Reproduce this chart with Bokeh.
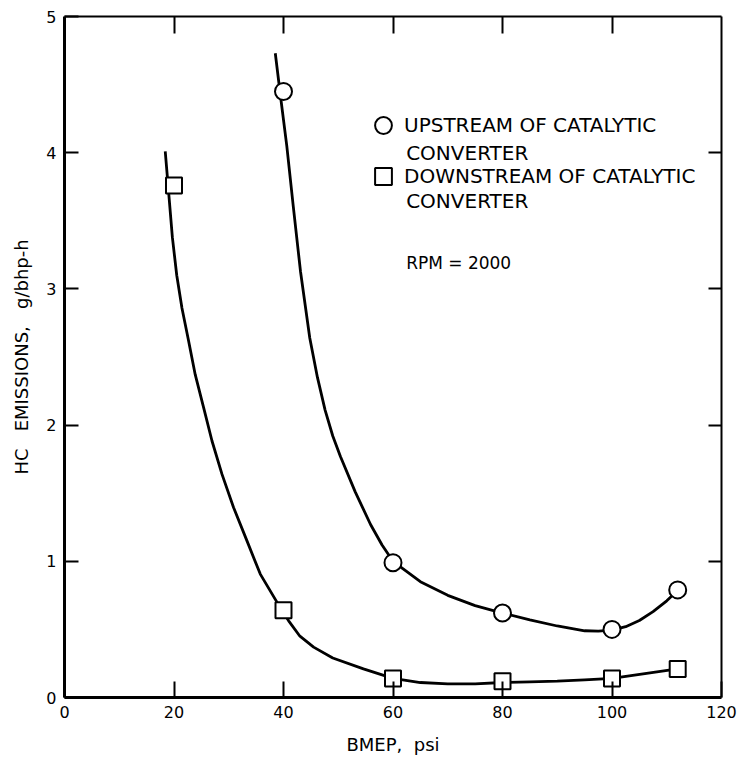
from bokeh.plotting import figure
from bokeh.models import (LinearAxis, Legend, LegendItem, Label, FixedTicker,
                          Range1d)
from bokeh.embed import file_html
from bokeh.resources import INLINE

# ---- data ----
x_ticks = [0, 20, 40, 60, 80, 100, 120]
y_ticks = [0, 1, 2, 3, 4, 5]

upstream_bmep = [40, 60, 80, 100, 112]
upstream_hc = [4.45, 0.99, 0.62, 0.50, 0.79]

downstream_bmep = [20, 40, 60, 80, 100, 112]
downstream_hc = [3.76, 0.64, 0.14, 0.12, 0.14, 0.21]

# faired curves as drawn in the picture
upstream_curve_x = [38.5, 39.5, 40.6, 41.8, 43.1, 44.8, 46.2, 47.6, 49.0, 50.4,
                    53.1, 55.9, 58.0, 60.0, 65, 70, 75, 80, 85, 90, 95, 97.5,
                    100, 102.5, 105, 107.5, 110, 112]
upstream_curve_y = [4.73, 4.40, 4.05, 3.60, 3.13, 2.64, 2.35, 2.11, 1.92, 1.77,
                    1.51, 1.27, 1.12, 1.00, 0.85, 0.75, 0.675, 0.62, 0.57, 0.525,
                    0.49, 0.488, 0.495, 0.52, 0.565, 0.63, 0.71, 0.785]

downstream_curve_x = [18.4, 19.0, 19.7, 20.5, 21.45, 22.66, 23.88, 25.4, 26.93,
                      28.76, 30.88, 33.33, 35.76, 38.8, 40.94, 43.0, 45.5, 49.0,
                      54.6, 60, 65, 70, 75, 80, 85, 90, 95, 100, 106, 112]
downstream_curve_y = [4.01, 3.72, 3.38, 3.10, 2.86, 2.62, 2.37, 2.13, 1.885,
                      1.64, 1.395, 1.15, 0.906, 0.70, 0.563, 0.45, 0.37, 0.29,
                      0.21, 0.14, 0.11, 0.10, 0.10, 0.11, 0.115, 0.12, 0.13,
                      0.14, 0.175, 0.21]

FONT = "DejaVu Sans"

p = figure(width=737, height=761, x_range=Range1d(0, 120), y_range=Range1d(0, 5),
           output_backend="svg", toolbar_location=None,
           min_border_left=64, min_border_top=16, min_border_right=16,
           min_border_bottom=64)
p.grid.visible = False
p.outline_line_color = None
p.background_fill_color = "white"
p.border_fill_color = "white"

# bottom axis
xa = p.xaxis[0]
xa.ticker = FixedTicker(ticks=x_ticks)
xa.major_tick_in = 16
xa.major_tick_out = 0
xa.minor_tick_line_color = None
xa.axis_line_width = 3
xa.major_tick_line_width = 2
xa.major_label_standoff = 8
xa.major_label_text_font = FONT
xa.major_label_text_font_size = "16px"
xa.major_label_text_color = "black"
xa.axis_label = "BMEP,\u00a0 psi"
xa.axis_label_text_font = FONT
xa.axis_label_text_font_size = "18px"
xa.axis_label_text_font_style = "normal"
xa.axis_label_text_color = "black"
xa.axis_label_standoff = 13

# left axis
ya = p.yaxis[0]
ya.ticker = FixedTicker(ticks=y_ticks)
ya.major_tick_in = 14
ya.major_tick_out = 0
ya.minor_tick_line_color = None
ya.axis_line_width = 3
ya.major_tick_line_width = 2
ya.major_label_standoff = 8
ya.major_label_text_font = FONT
ya.major_label_text_font_size = "16px"
ya.major_label_text_color = "black"
ya.axis_label = "HC\u00a0\u00a0 EMISSIONS,\u00a0\u00a0 g/bhp-h"
ya.axis_label_text_font = FONT
ya.axis_label_text_font_size = "18px"
ya.axis_label_text_font_style = "normal"
ya.axis_label_text_color = "black"
ya.axis_label_standoff = 11

# top and right frame axes (ticks only, blank labels)
top_ticks = [20, 40, 60, 80, 100]
right_ticks = [1, 2, 3, 4]
top = LinearAxis(ticker=FixedTicker(ticks=top_ticks),
                 major_tick_in=17, major_tick_out=0, minor_tick_line_color=None,
                 axis_line_width=2, major_tick_line_width=2,
                 major_label_overrides={t: "" for t in top_ticks},
                 major_label_text_font_size="8px", major_label_standoff=0)
right = LinearAxis(ticker=FixedTicker(ticks=right_ticks),
                   major_tick_in=13, major_tick_out=0, minor_tick_line_color=None,
                   axis_line_width=2, major_tick_line_width=2,
                   major_label_overrides={t: "" for t in right_ticks},
                   major_label_text_font_size="8px", major_label_standoff=0)
p.add_layout(top, "above")
p.add_layout(right, "right")

# curves
p.line(upstream_curve_x, upstream_curve_y, line_width=2.8, line_color="black")
p.line(downstream_curve_x, downstream_curve_y, line_width=2.8, line_color="black")

# points
r_up = p.scatter(upstream_bmep, upstream_hc, marker="circle", size=17,
                 fill_color="white", line_color="black", line_width=2)
r_dn = p.scatter(downstream_bmep, downstream_hc, marker="square", size=16,
                 fill_color="white", line_color="black", line_width=2)

legend = Legend(items=[LegendItem(label="UPSTREAM OF CATALYTIC", renderers=[r_up]),
                       LegendItem(label="DOWNSTREAM OF CATALYTIC", renderers=[r_dn])],
                location=(298, 500), padding=0, margin=0, spacing=9,
                glyph_width=42, glyph_height=42, label_standoff=0,
                label_height=20, label_text_font=FONT, label_text_font_size="20px",
                label_text_color="black",
                background_fill_alpha=0, border_line_alpha=0)
p.add_layout(legend)

# second lines of the legend labels and the speed note (left edge aligned with legend text)
for txt, yy, fs in [("CONVERTER", 4.0, "20px"), ("CONVERTER", 3.645, "20px"),
                    ("RPM = 2000", 3.19, "17px")]:
    p.add_layout(Label(x=62.4, y=yy, text=txt, text_font=FONT,
                       text_font_size=fs, text_baseline="middle",
                       text_align="left", text_color="black"))

open("out.html", "w").write(file_html(p, INLINE))
